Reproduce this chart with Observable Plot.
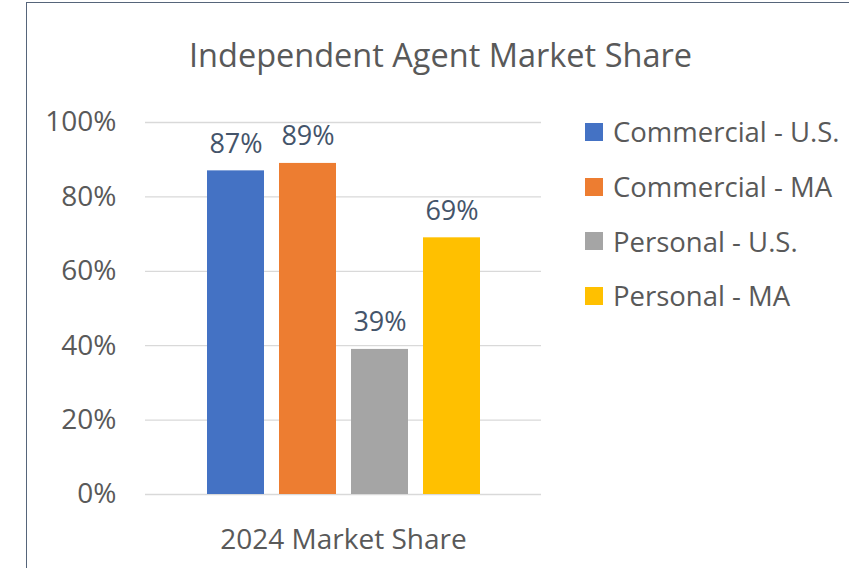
<!DOCTYPE html>
<html><head><meta charset="utf-8">
<script src="https://cdn.jsdelivr.net/npm/d3@7"></script>
<script src="https://cdn.jsdelivr.net/npm/@observablehq/plot@0.6"></script>
<style>
html,body{margin:0;padding:0;background:#fff;}
#wrap{position:relative;width:849px;height:568px;overflow:hidden;font-family:"Open Sans",sans-serif;}
#border{position:absolute;left:26px;top:2px;width:1000px;height:1000px;border:1.5px solid #56657a;box-sizing:border-box;}
#chart{position:absolute;left:0;top:0;}
#legend{position:absolute;left:585px;top:104.7px;}
.row{display:flex;align-items:center;height:54.6px;font-size:27.5px;color:#595959;white-space:nowrap;}
.sw{width:18px;height:18px;margin-right:10px;flex:none;}
</style></head>
<body>
<div id="wrap"><div id="border"></div><div id="chart"></div><div id="legend"></div></div>
<script>
const title = "Independent Agent Market Share";
const categoryLabel = "2024 Market Share";
const series = ["Commercial - U.S.", "Commercial - MA", "Personal - U.S.", "Personal - MA"];
const values = [0.87, 0.89, 0.39, 0.69];
const colors = ["#4472C4", "#ED7D31", "#A5A5A5", "#FFC000"];
const yTicks = [0, 0.2, 0.4, 0.6, 0.8, 1.0];

const data = series.map((s, i) => ({series: s, value: values[i]}));

const chart = Plot.plot({
  width: 849,
  height: 568,
  marginLeft: 145,
  marginRight: 308,
  marginTop: 122,
  marginBottom: 74,
  style: {fontFamily: '"Open Sans", sans-serif', background: "transparent", overflow: "visible"},
  x: {domain: series, paddingInner: 0.21, paddingOuter: 0.855, axis: null},
  y: {domain: [0, 1], ticks: yTicks, axis: null},
  color: {domain: series, range: colors},
  marks: [
    Plot.ruleY(yTicks, {stroke: "#D9D9D9", strokeWidth: 1.3}),
    Plot.axisY({ticks: yTicks, tickSize: 0, tickPadding: 29, tickFormat: d3.format(".0%"), fontSize: 28, color: "#595959", anchor: "left", label: null}),
    Plot.barY(data, {x: "series", y: "value", fill: "series"}),
    Plot.text(data, {x: "series", y: "value", text: d => d3.format(".0%")(d.value), dy: -18, lineAnchor: "bottom", fontSize: 27, fill: "#44546A"}),
    Plot.text([title], {frameAnchor: "top", text: d => d, dx: 97, dy: -56, lineAnchor: "bottom", fontSize: 32.5, fill: "#595959"}),
    Plot.text([categoryLabel], {frameAnchor: "bottom", text: d => d, dy: 54, lineAnchor: "bottom", fontSize: 28, fill: "#595959"})
  ]
});
document.getElementById("chart").appendChild(chart);

const legend = document.getElementById("legend");
series.forEach((s, i) => {
  const row = document.createElement("div");
  row.className = "row";
  const sw = document.createElement("div");
  sw.className = "sw";
  sw.style.background = colors[i];
  const t = document.createElement("span");
  t.textContent = s;
  row.appendChild(sw);
  row.appendChild(t);
  legend.appendChild(row);
});
</script>
</body></html>
